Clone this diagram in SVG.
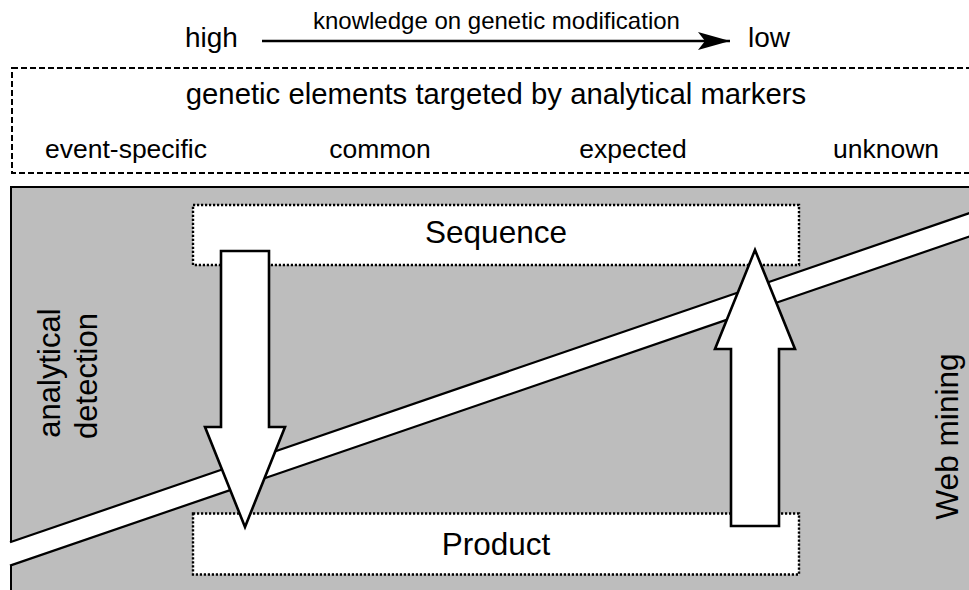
<svg xmlns="http://www.w3.org/2000/svg" width="969" height="590" viewBox="0 0 969 590">
<style>
text{font-family:"Liberation Sans",Arial,Helvetica,sans-serif;fill:#000}
.dotbox{fill:#fff;stroke:#000;stroke-width:2.4;stroke-dasharray:2.2 1.8}
.big{stroke:#000;stroke-width:2.6;fill:#fff;stroke-linejoin:miter}
.edge{stroke:#000;stroke-width:2.2;fill:none}
</style>
<defs>
<marker id="head" markerWidth="34" markerHeight="20" refX="32" refY="9" orient="auto" markerUnits="userSpaceOnUse">
<path d="M0,0 L32,9 L0,18 L7,9 Z" fill="#000"/>
</marker>
</defs>
<rect width="969" height="590" fill="#fff"/>
<g id="scale">
<text x="185" y="47" font-size="28">high</text>
<text x="748" y="47" font-size="28">low</text>
<text x="313" y="29" font-size="24">knowledge on genetic modification</text>
<line x1="262" y1="41" x2="730" y2="41" stroke="#000" stroke-width="2.4" marker-end="url(#head)"/>
</g>
<g id="markers">
<rect x="12" y="68" width="980" height="105" fill="none" stroke="#000" stroke-width="2" stroke-dasharray="6 3"/>
<text x="496" y="104" font-size="29.3" text-anchor="middle">genetic elements targeted by analytical markers</text>
<text x="126" y="158" font-size="26.5" text-anchor="middle">event-specific</text>
<text x="380" y="158" font-size="26.5" text-anchor="middle">common</text>
<text x="633" y="158" font-size="26.5" text-anchor="middle">expected</text>
<text x="886" y="158" font-size="26.5" text-anchor="middle">unknown</text>
</g>
<g id="panel">
<rect x="11" y="187" width="970" height="420" fill="#bdbdbd" stroke="#000" stroke-width="2"/>
<text transform="translate(60,373) rotate(-90)" font-size="31" text-anchor="middle">analytical</text>
<text transform="translate(97,376) rotate(-90)" font-size="31" text-anchor="middle">detection</text>
<text transform="translate(958,436.5) rotate(-90)" font-size="31.6" text-anchor="middle">Web mining</text>
</g>
<g id="band">
<polygon points="9,542.6 971,212.6 971,236 9,565.9" fill="#fff"/>
<line class="edge" x1="10" y1="542.3" x2="971" y2="212.6"/>
<line class="edge" x1="10" y1="565.6" x2="971" y2="236"/>
</g>
<g id="sequence">
<rect class="dotbox" x="193" y="205" width="606" height="60"/>
<text x="496" y="243" font-size="31.5" text-anchor="middle">Sequence</text>
</g>
<g id="product">
<rect class="dotbox" x="193" y="513.5" width="606" height="61"/>
<text x="496" y="555" font-size="31.5" text-anchor="middle">Product</text>
</g>
<g id="connectors">
<polygon class="big" points="221,251 269,251 269,427 285,427 245,527 205,427 221,427"/>
<polygon class="big" points="731,526 779,526 779,349 795,349 755,250 715,349 731,349"/>
</g>
</svg>
